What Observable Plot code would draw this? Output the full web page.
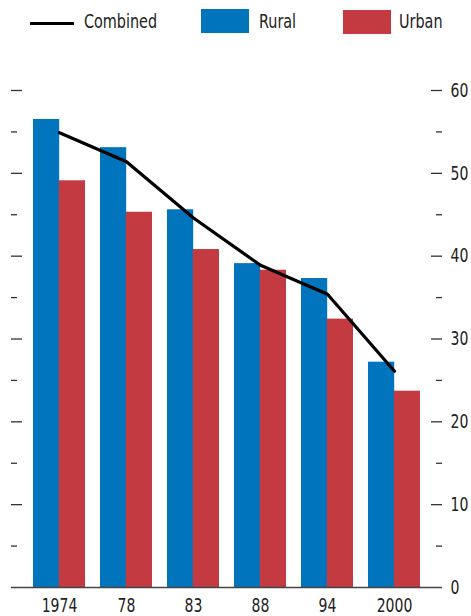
<!DOCTYPE html>
<html>
<head>
<meta charset="utf-8">
<script src="https://cdn.jsdelivr.net/npm/d3@7"></script>
<script src="https://cdn.jsdelivr.net/npm/@observablehq/plot@0.6"></script>
<style>
  html, body { margin: 0; padding: 0; background: #fff; }
  body { width: 471px; height: 616px; overflow: hidden; font-family: "DejaVu Sans", sans-serif; font-stretch: condensed; color: #222; }
  #legend { position: relative; height: 50px; font-size: 19.5px; }
  #legend .item { position: absolute; display: block; }
  #legend .txt { transform: scaleX(0.82); transform-origin: 0 50%; white-space: nowrap; }
  #chart svg { display: block; }
</style>
</head>
<body>
<div id="legend"></div>
<div id="chart"></div>
<script>
const years = ["1974", "78", "83", "88", "94", "2000"];
const rural = [56.5, 53.1, 45.6, 39.1, 37.3, 27.2];
const urban = [49.1, 45.3, 40.8, 38.3, 32.4, 23.7];
const combined = [54.9, 51.4, 44.6, 38.9, 35.4, 26.1];
const labelTicks = [0, 10, 20, 30, 40, 50, 60];
const minorTicks = [5, 15, 25, 35, 45, 55];
const seriesNames = ["Combined", "Rural", "Urban"];
const seriesColors = ["#000000", "#0075BE", "#C33A40"];

const ruralData = years.map((y, i) => ({year: y, value: rural[i]}));
const urbanData = years.map((y, i) => ({year: y, value: urban[i]}));
const combData = years.map((y, i) => ({year: y, value: combined[i]}));

// Legend
const legend = document.getElementById("legend");
const legendLayout = [
  {kind: "line", sx: 30, sw: 44, tx: 84},
  {kind: "box", sx: 201, sw: 48, tx: 259},
  {kind: "box", sx: 343, sw: 48, tx: 399}
];
legendLayout.forEach((l, i) => {
  const sw = document.createElement("span");
  sw.className = "item";
  sw.style.left = l.sx + "px";
  sw.style.width = l.sw + "px";
  if (l.kind === "line") {
    sw.style.top = "21.5px";
    sw.style.height = "3px";
  } else {
    sw.style.top = (i === 1 ? 9 : 10) + "px";
    sw.style.height = "24px";
  }
  sw.style.background = seriesColors[i];
  legend.appendChild(sw);
  const t = document.createElement("span");
  t.className = "item txt";
  t.style.left = l.tx + "px";
  t.style.top = "10px";
  t.style.lineHeight = "24px";
  t.textContent = seriesNames[i];
  legend.appendChild(t);
});

const frameW = 431;
const half = 25.8;

const chart = Plot.plot({
  width: 471,
  height: 566,
  marginLeft: 11,
  marginRight: 29,
  marginTop: 40,
  marginBottom: 29,
  style: {fontFamily: "'DejaVu Sans', sans-serif", fontStretch: "condensed", fontSize: "19.5px", color: "#222", background: "#fff"},
  x: {type: "band", domain: years, paddingInner: 0.23, paddingOuter: 0.33},
  y: {domain: [0, 60]},
  marks: [
    Plot.barY(ruralData, {x: "year", y: "value", fill: seriesColors[1], insetRight: half, insetLeft: 0}),
    Plot.barY(urbanData, {x: "year", y: "value", fill: seriesColors[2], insetLeft: half, insetRight: 0}),
    Plot.line(combData, {x: "year", y: "value", stroke: seriesColors[0], strokeWidth: 3.2}),
    Plot.ruleY(labelTicks.slice(1), {y: d => d, stroke: "#333", strokeWidth: 1.3, insetRight: frameW - 11}),
    Plot.ruleY(minorTicks, {y: d => d, stroke: "#333", strokeWidth: 1.3, insetRight: frameW - 6}),
    Plot.ruleY(labelTicks.slice(1), {y: d => d, stroke: "#333", strokeWidth: 1.3, insetLeft: frameW - 11}),
    Plot.ruleY(minorTicks, {y: d => d, stroke: "#333", strokeWidth: 1.3, insetLeft: frameW - 6}),
    Plot.ruleY([0], {stroke: "#444", strokeWidth: 1.3}),
    Plot.axisY({anchor: "right", ticks: labelTicks, tickSize: 0, tickPadding: 8, label: null, tickFormat: d => String(d)}),
    Plot.axisX({tickSize: 0, tickPadding: 11, label: null})
  ]
});
// condense the tick label glyphs horizontally to mimic the narrow typeface
d3.select(chart).selectAll("g[aria-label$='tick label'] text").each(function () {
  const tr = this.getAttribute("transform") || "";
  this.setAttribute("transform", tr + " scale(0.8,1)");
});
document.getElementById("chart").appendChild(chart);
</script>
</body>
</html>
